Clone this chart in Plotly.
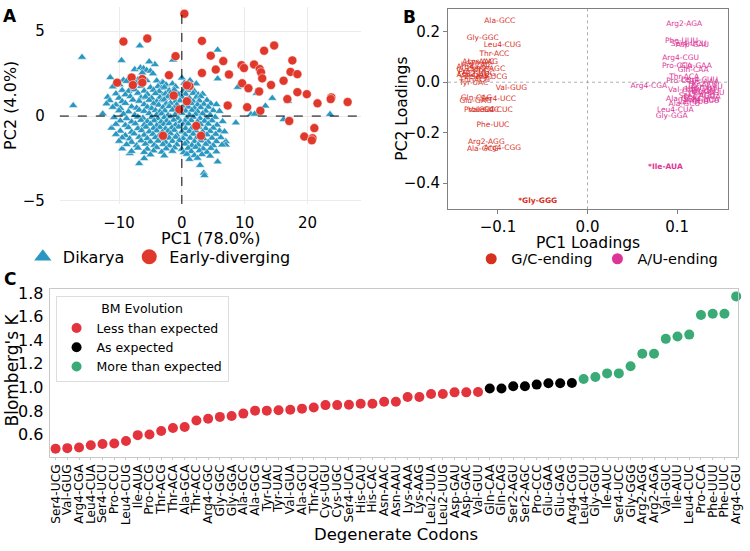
import plotly.graph_objects as go

W, H = 750, 551

# ---------------- Panel A: PCA scores ----------------
dikarya_pc1 = [
    -15.9, -17.3, -6.7, 5.7, -9.6, -1.4, -4.3, -5.2, 0.0, 5.7, -11.4, 23.6, 8.9, 11.9, 14.4, 16.9, 13.3, 11.0, 11.6, 16.2, 8.6,
    -6.8, 3.5, 3.6, 2.9, 5.7, 7.0, -9.5, -8.3, -11.2, -12.6,
    -7.5, -6.6, -6.1, -5.6, -5.0, -6.3, -4.6,
    -9.3, -8.8, -7.0, -6.2, -5.6, -4.0, -3.1, 1.3,
    -10.1, -9.9, -7.3, -3.5, -3.0, -2.5, -1.5, 0.4, 1.2, 2.3,
    -11.0, -8.0, -6.5, -5.0, -3.8, -3.2, -2.8, -1.0, 0.8, 1.5,
    -9.5, -8.5, -7.5, -6.0, -4.5, -3.6, -2.0, -1.2, 0.2, 1.0, 2.0,
    -10.5, -9.0, -7.0, -5.5, -4.2, -3.0, -2.6, -1.8, -0.5, 0.6, 1.8, 2.6, 3.3,
    -11.8, -10.0, -8.2, -6.5, -5.8, -4.8, -3.5, -2.2, -1.5, 0.0, 1.2, 2.3, 3.0,
    -11.5, -9.5, -7.8, -6.8, -5.2, -4.0, -3.2, -2.8, -1.0, -0.3, 0.8, 1.8, 2.8, 4.0,
    -12.0, -10.5, -9.0, -6.0, -4.5, -3.7, -2.5, -1.8, -0.8, 0.5, 1.5, 2.5, 3.5, 4.6, 5.5,
    -11.0, -9.8, -8.0, -7.2, -5.5, -4.8, -3.0, -2.0, -1.2, 0.2, 1.0, 2.0, 3.0, 4.2,
    -10.0, -8.5, -6.8, -6.0, -4.2, -3.5, -2.7, -1.5, -0.5, 0.6, 1.6, 2.5, 3.8, 5.0, 6.0,
    -9.3, -7.5, -5.2, -4.0, -3.2, -2.2, -1.0, 0.0, 1.2, 2.2, 3.3, 4.5,
    -10.8, -8.8, -7.0, -6.2, -4.8, -3.8, -2.8, -1.8, -0.6, 0.8, 1.8, 2.9, 4.0, 5.3,
    -9.8, -8.0, -6.5, -5.5, -4.4, -3.3, -2.4, -1.3, -0.2, 0.5, 1.5, 2.5, 3.6, 4.8, 6.5,
    -10.5, -9.0, -7.4, -6.0, -5.0, -4.0, -2.9, -2.0, -1.0, 0.2, 1.0, 2.0, 3.0, 4.2, 5.6,
    -8.5, -7.0, -5.7, -4.5, -3.5, -2.6, -1.6, -0.5, 0.6, 1.6, 2.7, 3.8, 5.0,
    -9.8, -8.0, -6.4, -5.2, -4.0, -3.1, -2.2, -1.2, 0.0, 1.2, 2.2, 3.3, 4.5, 6.0, 6.8,
    -10.5, -9.0, -7.6, -6.0, -4.6, -3.6, -2.7, -1.8, -0.8, 0.5, 1.8, 2.8, 4.0, 5.4,
    -9.5, -8.3, -6.8, -5.5, -4.2, -3.0, -2.0, -1.0, 0.2, 1.3, 2.4, 3.5, 4.8, 6.2,
    -10.0, -8.0, -6.5, -5.0, -3.8, -2.6, -1.5, -0.4, 0.8, 2.0, 3.0, 4.2, 5.5, 7.0,
    -8.8, -7.2, -5.8, -4.4, -3.0, -2.0, -0.8, 0.5, 1.6, 2.6, 3.8, 5.0, 6.4,
    -7.0, -5.5, -4.0, -2.5, -1.2, 0.0, 1.0, 2.2, 3.4, 4.6,
    -8.0, -6.0, -4.5, -3.2, -1.5, 0.3, 1.5, 2.8, 4.0, 5.5,
    -5.0, -2.8, 0.8, 2.0, 3.2, 4.5, -6.0, 1.2, 2.5,
]
dikarya_pc2 = [
    3.47, 0.62, 4.14, 3.9, 3.28, 3.31, 3.04, 3.2, 2.25, 2.2, 2.27, 0.1, 1.7, 1.35, 1.05, 0.87, 0.6, 0.1, 0.12, -0.2, -0.4,
    -2.8, -3.35, -3.5, -2.9, -2.7, -1.5, -1.93, -2.2, -0.71, 0.13,
    2.75, 2.85, 2.8, 2.7, 2.65, 2.55, 2.5,
    2.12, 2.05, 2.15, 2.02, 2.1, 2.08, 2.0, 2.1,
    1.92, 1.85, 1.95, 1.88, 1.97, 1.84, 1.9, 1.95, 1.86, 1.9,
    1.72, 1.66, 1.75, 1.68, 1.74, 1.65, 1.7, 1.73, 1.66, 1.7,
    1.52, 1.46, 1.55, 1.48, 1.53, 1.45, 1.5, 1.54, 1.47, 1.52, 1.45,
    1.32, 1.26, 1.35, 1.28, 1.33, 1.25, 1.31, 1.36, 1.27, 1.3, 1.34, 1.26, 1.3,
    1.12, 1.06, 1.15, 1.08, 1.13, 1.05, 1.1, 1.14, 1.07, 1.12, 1.05, 1.1, 1.15,
    0.92, 0.86, 0.95, 0.88, 0.93, 0.85, 0.91, 0.96, 0.87, 0.9, 0.94, 0.86, 0.9, 0.93,
    0.72, 0.66, 0.75, 0.68, 0.73, 0.65, 0.71, 0.76, 0.67, 0.7, 0.74, 0.66, 0.7, 0.73, 0.68,
    0.52, 0.46, 0.55, 0.48, 0.53, 0.45, 0.51, 0.56, 0.47, 0.5, 0.54, 0.46, 0.5, 0.53,
    0.32, 0.26, 0.35, 0.28, 0.33, 0.25, 0.31, 0.36, 0.27, 0.3, 0.34, 0.26, 0.3, 0.33, 0.28,
    0.12, 0.06, 0.15, 0.08, 0.13, 0.05, 0.11, 0.16, 0.07, 0.1, 0.14, 0.06,
    -0.08, -0.14, -0.05, -0.12, -0.07, -0.15, -0.09, -0.04, -0.13, -0.1, -0.06, -0.14, -0.1, -0.07,
    -0.28, -0.34, -0.25, -0.32, -0.27, -0.35, -0.29, -0.24, -0.33, -0.3, -0.26, -0.34, -0.3, -0.27, -0.32,
    -0.48, -0.54, -0.45, -0.52, -0.47, -0.55, -0.49, -0.44, -0.53, -0.5, -0.46, -0.54, -0.5, -0.47, -0.52,
    -0.68, -0.74, -0.65, -0.72, -0.67, -0.75, -0.69, -0.64, -0.73, -0.7, -0.66, -0.74, -0.7,
    -0.88, -0.94, -0.85, -0.92, -0.87, -0.95, -0.89, -0.84, -0.93, -0.9, -0.86, -0.94, -0.9, -0.87, -0.92,
    -1.08, -1.14, -1.05, -1.12, -1.07, -1.15, -1.09, -1.04, -1.13, -1.1, -1.06, -1.14, -1.1, -1.07,
    -1.28, -1.34, -1.25, -1.32, -1.27, -1.35, -1.29, -1.24, -1.33, -1.3, -1.26, -1.34, -1.3, -1.27,
    -1.48, -1.54, -1.45, -1.52, -1.47, -1.55, -1.49, -1.44, -1.53, -1.5, -1.46, -1.54, -1.5, -1.7,
    -1.68, -1.74, -1.65, -1.72, -1.67, -1.75, -1.69, -1.64, -1.73, -1.7, -1.66, -1.74, -1.7,
    -1.88, -1.94, -1.85, -1.92, -1.87, -1.95, -1.89, -1.84, -1.93, -1.9,
    -2.08, -2.14, -2.05, -2.12, -2.07, -2.15, -2.09, -2.04, -2.13, -2.1,
    -2.28, -2.34, -2.25, -2.32, -2.27, -2.35, -2.5, -2.55, -2.48,
]
early_pc1 = [0.4, -9.3, -5.5, 3.2, -1.0, 4.6, 6.6, 5.4, 3.2, 7.5, -2.05, 13.1, 14.7, 9.5, 9.9,
             11.5, 12.4, 12.6, 12.8, 9.6, 10.6, 12.3, 14.2, 16.2, 17.6, 17.3, 18.4, 18.4, 19.9,
             16.8, 21.6, 23.8, 23.7, 26.4, 7.3, 10.4, 12.5, 17.1, 21.1, 19.5, 20.8, 20.7, -10.3,
             -8.0, -7.8, -6.3, -6.3, 0.8, 1.2, 0.8, -1.3, -0.4, -3.0, 2.3, 3.05]
early_pc2 = [6.03, 4.39, 4.57, 4.43, 3.53, 3.56, 3.24, 2.74, 2.54, 2.45, 2.41, 3.85, 4.16, 3.0, 2.83,
             3.04, 2.77, 2.58, 2.22, 1.93, 1.64, 1.45, 1.83, 2.08, 3.28, 2.6, 2.47, 1.41, 1.29,
             1.0, 0.75, 1.1, 1.0, 0.83, 0.62, 0.52, 0.31, -0.29, -0.71, -1.21, -1.31, -1.43, 1.97,
             2.27, 1.83, 2.18, 1.97, 0.87, 1.77, 1.81, 1.21, 0.39, -1.16, -0.58, -1.16]
a_xticks = [-10, 0, 10, 20]
a_yticks = [-5, 0, 5]

# ---------------- Panel B: PCA loadings ----------------
gc_codons = ["Ala-GCC", "Gly-GGC", "Leu4-CUG", "Thr-ACC", "Asn-AAC", "Lys-AAG", "His-CAC", "Arg4-CGC",
             "Ser2-AGC", "Cys-UGC", "Pro-CCG", "Leu2-UUG", "Asp-GAC", "Ile-AUC", "Ser4-UCG", "Thr-ACG",
             "Tyr-UAC", "Val-GUG", "Gln-CAG", "Glu-GAG", "Ser4-UCC", "Pro-CCC", "Val-GUC", "Leu4-CUC",
             "Phe-UUC", "Arg2-AGG", "Ala-GCG", "Arg4-CGG", "Gly-GGG"]
gc_pc1 = [-0.098, -0.117, -0.095, -0.104, -0.122, -0.117, -0.125, -0.126,
          -0.112, -0.128, -0.127, -0.124, -0.128, -0.122, -0.110, -0.126,
          -0.127, -0.085, -0.124, -0.125, -0.100, -0.121, -0.116, -0.104,
          -0.1056, -0.113, -0.117, -0.095, -0.0556]
gc_pc2 = [0.244, 0.175, 0.146, 0.111, 0.078, 0.080, 0.066, 0.060,
          0.052, 0.048, 0.040, 0.034, 0.028, 0.020, 0.020, 0.008,
          -0.002, -0.024, -0.062, -0.073, -0.069, -0.111, -0.110, -0.109,
          -0.171, -0.239, -0.266, -0.261, -0.471]
au_codons = ["Arg2-AGA", "Phe-UUU", "Ser4-UCU", "Asp-GAU", "Arg4-CGU", "Pro-CCA", "Glu-GAA", "Gln-CAA",
             "Thr-ACA", "Pro-CCU", "Leu4-CUU", "Lys-AAA", "Arg4-CGA", "Thr-ACU", "Asn-AAU", "His-CAU",
             "Val-GUA", "Tyr-UAU", "Cys-UGU", "Gly-GGU", "Ser2-AGU", "Leu2-UUA", "Ala-GCA", "Ser4-UCA",
             "Ile-AUU", "Val-GUU", "Ala-GCU", "Leu4-CUA", "Gly-GGA", "Ile-AUA"]
au_pc1 = [0.108, 0.105, 0.113, 0.117, 0.104, 0.100, 0.121, 0.118,
          0.108, 0.105, 0.125, 0.130, 0.0685, 0.128, 0.133, 0.126,
          0.107, 0.131, 0.124, 0.135, 0.122, 0.128, 0.105, 0.127,
          0.132, 0.118, 0.108, 0.098, 0.094, 0.087]
au_pc2 = [0.231, 0.161, 0.150, 0.146, 0.096, 0.063, 0.064, 0.047,
          0.020, 0.003, 0.008, 0.002, -0.014, -0.010, -0.018, -0.026,
          -0.031, -0.034, -0.040, -0.045, -0.054, -0.060, -0.068, -0.070,
          -0.076, -0.080, -0.086, -0.111, -0.134, -0.335]
highlighted = ["Gly-GGG", "Ile-AUA"]
b_xticks = [-0.1, 0.0, 0.1]
b_yticks = [-0.4, -0.2, 0.0, 0.2]

# ---------------- Panel C: Blomberg's K ----------------
codons = ["Ser4-UCG", "Val-GUG", "Arg4-CGA", "Leu4-CUA", "Ser4-UCU", "Pro-CCU", "Leu4-CUG", "Ile-AUA",
          "Pro-CCG", "Thr-ACG", "Thr-ACA", "Ala-GCA", "Thr-ACC", "Arg4-CGC", "Gly-GGC", "Gly-GGA",
          "Ala-GCC", "Ala-GCG", "Tyr-UAC", "Tyr-UAU", "Val-GUA", "Ala-GCU", "Thr-ACU", "Cys-UGU",
          "Cys-UGC", "Ser4-UCA", "His-CAU", "His-CAC", "Asn-AAC", "Asn-AAU", "Lys-AAA", "Lys-AAG",
          "Leu2-UUA", "Leu2-UUG", "Asp-GAU", "Asp-GAC", "Val-GUU", "Gln-CAA", "Gln-CAG", "Ser2-AGU",
          "Ser2-AGC", "Pro-CCC", "Glu-GAA", "Glu-GAG", "Arg4-CGG", "Leu4-CUU", "Gly-GGU", "Ile-AUC",
          "Ser4-UCC", "Gly-GGG", "Arg2-AGG", "Arg2-AGA", "Val-GUC", "Ile-AUU", "Leu4-CUC", "Pro-CCA",
          "Phe-UUU", "Phe-UUC", "Arg4-CGU"]
blomberg_k = [0.48, 0.485, 0.49, 0.51, 0.52, 0.525, 0.545, 0.595, 0.60, 0.631,
              0.656, 0.664, 0.72, 0.734, 0.75, 0.758, 0.778, 0.803, 0.803, 0.806,
              0.811, 0.82, 0.83, 0.85, 0.85, 0.853, 0.861, 0.861, 0.878, 0.878,
              0.919, 0.919, 0.944, 0.944, 0.958, 0.958, 0.961, 0.991, 0.991, 1.01,
              1.01, 1.024, 1.035, 1.035, 1.038, 1.071, 1.088, 1.119, 1.119, 1.18,
              1.285, 1.285, 1.412, 1.432, 1.448, 1.614, 1.625, 1.625, 1.772]
bm_class = (["Less than expected"] * 37 + ["As expected"] * 8 + ["More than expected"] * 14)
bm_order = ["Less than expected", "As expected", "More than expected"]
bm_colors = {"Less than expected": "#e3333d", "As expected": "#000000", "More than expected": "#3aaa76"}
c_yticks = [0.6, 0.8, 1.0, 1.2, 1.4, 1.6, 1.8]

BLUE = "#2a97c0"
RED = "#e0392c"
GC_COL = "#d7301f"
AU_COL = "#dd3497"
FONT = "DejaVu Sans"


def px_x(p):
    return p / W


def px_y(p):
    return 1 - p / H


fig = go.Figure()

# Panel A traces
fig.add_trace(go.Scatter(x=dikarya_pc1, y=dikarya_pc2, mode="markers", xaxis="x", yaxis="y",
                         marker=dict(symbol="triangle-up", size=8, color=BLUE,
                                     line=dict(color="white", width=0.5)),
                         showlegend=False, cliponaxis=False))
fig.add_trace(go.Scatter(x=early_pc1, y=early_pc2, mode="markers", xaxis="x", yaxis="y",
                         marker=dict(symbol="circle", size=9, color=RED,
                                     line=dict(color="white", width=0.5)),
                         showlegend=False, cliponaxis=False))
fig.add_trace(go.Scatter(x=[None], y=[None], mode="markers", xaxis="x", yaxis="y", name="Dikarya",
                         marker=dict(symbol="triangle-up", size=15, color=BLUE), legend="legend"))
fig.add_trace(go.Scatter(x=[None], y=[None], mode="markers", xaxis="x", yaxis="y", name="Early-diverging",
                         marker=dict(symbol="circle", size=15, color=RED), legend="legend"))

# Panel B traces
def label_text(names):
    return ["<b>*" + n + "</b>" if n in highlighted else n for n in names]


fig.add_trace(go.Scatter(x=gc_pc1, y=gc_pc2, mode="text", text=label_text(gc_codons), xaxis="x2", yaxis="y2",
                         textfont=dict(size=7.5, color=GC_COL, family=FONT), showlegend=False,
                         cliponaxis=False))
fig.add_trace(go.Scatter(x=au_pc1, y=au_pc2, mode="text", text=label_text(au_codons), xaxis="x2", yaxis="y2",
                         textfont=dict(size=7.5, color=AU_COL, family=FONT), showlegend=False,
                         cliponaxis=False))
fig.add_trace(go.Scatter(x=[None], y=[None], mode="markers", xaxis="x2", yaxis="y2", name="G/C-ending",
                         marker=dict(size=11, color=GC_COL), legend="legend2"))
fig.add_trace(go.Scatter(x=[None], y=[None], mode="markers", xaxis="x2", yaxis="y2", name="A/U-ending",
                         marker=dict(size=11, color=AU_COL), legend="legend2"))

# Panel C traces
for cls in bm_order:
    xs = [c for c, k in zip(codons, bm_class) if k == cls]
    ys = [v for v, k in zip(blomberg_k, bm_class) if k == cls]
    fig.add_trace(go.Scatter(x=xs, y=ys, mode="markers", name=cls, xaxis="x3", yaxis="y3",
                             marker=dict(size=10, color=bm_colors[cls]), legend="legend3",
                             cliponaxis=False))

# Axes geometry (pixels)
A_L, A_R, A_T, A_B = 59.3, 363.3, 2.0, 203.0
B_L, B_R, B_T, B_B = 450.7, 732.7, 4.0, 208.5
C_L, C_R, C_T, C_B = 49.0, 743.0, 290.0, 460.7

fig.update_layout(
    width=W, height=H, margin=dict(l=0, r=0, t=0, b=0),
    paper_bgcolor="white", plot_bgcolor="white",
    font=dict(family=FONT, color="black"),
    xaxis=dict(domain=[px_x(A_L), px_x(A_R)], range=[-19.43, 28.59], anchor="y",
               tickvals=a_xticks, showgrid=True, gridcolor="#ebebeb", gridwidth=1,
               zeroline=False, showline=False, ticks="", ticklabelstandoff=8,
               tickfont=dict(size=15)),
    yaxis=dict(domain=[px_y(A_B), px_y(A_T)], range=[-5.18, 6.43], anchor="x",
               tickvals=a_yticks, showgrid=True, gridcolor="#ebebeb", gridwidth=1,
               zeroline=False, showline=False, ticks="", ticklabelstandoff=14,
               tickfont=dict(size=15)),
    xaxis2=dict(domain=[px_x(B_L), px_x(B_R)], range=[-0.1557, 0.1567], anchor="y2",
                tickvals=b_xticks, tickformat=".1f", showgrid=False, zeroline=False,
                showline=True, linecolor="#7f7f7f", linewidth=1, mirror=True,
                ticks="outside", ticklen=4, tickcolor="#7f7f7f", tickfont=dict(size=15)),
    yaxis2=dict(domain=[px_y(B_B), px_y(B_T)], range=[-0.504, 0.2907], anchor="x2",
                tickvals=b_yticks, tickformat=".1f", showgrid=False, zeroline=False,
                showline=True, linecolor="#7f7f7f", linewidth=1, mirror=True,
                ticks="outside", ticklen=4, tickcolor="#7f7f7f", tickfont=dict(size=15)),
    xaxis3=dict(domain=[px_x(C_L), px_x(C_R)], range=[-0.51, 58.16], anchor="y3",
                type="category", categoryorder="array", categoryarray=codons,
                tickmode="linear", tick0=0, dtick=1,
                tickangle=-90, tickfont=dict(size=12.2), showgrid=False, zeroline=False,
                showline=True, linecolor="#c8c8c8", linewidth=1, mirror=True,
                ticks="outside", ticklen=2, tickcolor="#c8c8c8"),
    yaxis3=dict(domain=[px_y(C_B), px_y(C_T)], range=[0.414, 1.833], anchor="x3",
                tickvals=c_yticks, tickformat=".1f", showgrid=False, zeroline=False,
                showline=True, linecolor="#c8c8c8", linewidth=1, mirror=True,
                ticks="", ticklabelstandoff=2, tickfont=dict(size=16)),
    legend=dict(orientation="h", x=px_x(22), y=px_y(257), xanchor="left", yanchor="middle",
                font=dict(size=16), bgcolor="rgba(0,0,0,0)", itemwidth=30),
    legend2=dict(orientation="h", x=px_x(474), y=px_y(259), xanchor="left", yanchor="middle",
                 font=dict(size=14.5), bgcolor="rgba(0,0,0,0)", itemwidth=30),
    legend3=dict(orientation="v", x=px_x(55), y=px_y(297), xanchor="left", yanchor="top",
                 font=dict(size=12.5), bgcolor="white", bordercolor="#dddddd", borderwidth=1,
                 title=dict(text="BM Evolution", side="top center", font=dict(size=12.5)),
                 itemwidth=30, tracegroupgap=0),
)

# Reference lines
shapes = [
    dict(type="line", xref="x", yref="y domain", x0=0, x1=0, y0=0, y1=1,
         line=dict(color="black", width=1, dash="dash")),
    dict(type="line", xref="x domain", yref="y", x0=0, x1=1, y0=0, y1=0,
         line=dict(color="black", width=1, dash="dash")),
    dict(type="line", xref="x2", yref="y2 domain", x0=0, x1=0, y0=0, y1=1,
         line=dict(color="#999999", width=0.8, dash="dot")),
    dict(type="line", xref="x2 domain", yref="y2", x0=0, x1=1, y0=0, y1=0,
         line=dict(color="#999999", width=0.8, dash="dot")),
]
fig.update_layout(shapes=shapes)

# Titles and panel letters
def ann(text, xp, yp, size, angle=0, bold=False, xanchor="center"):
    return dict(text=("<b>%s</b>" % text) if bold else text, x=px_x(xp), y=px_y(yp),
                xref="paper", yref="paper", showarrow=False, textangle=angle,
                font=dict(size=size, family=FONT, color="black"),
                xanchor=xanchor, yanchor="middle")


annotations = [
    ann("A", 9, 11, 17, bold=True),
    ann("B", 412, 12, 17, bold=True),
    ann("C", 9, 280, 17, bold=True),
    ann("PC1 (78.0%)", 211, 238, 16),
    ann("PC2 (4.0%)", 10, 102, 16, angle=-90),
    ann("PC1 Loadings", 592, 243, 15.5),
    ann("PC2 Loadings", 404, 106, 15.5, angle=-90),
    ann("Blomberg's K", 11, 372, 17, angle=-90),
    ann("Degenerate Codons", 398, 540, 16.5),
]
fig.update_layout(annotations=annotations)

fig.write_html("out.html", config={"displayModeBar": False},
               post_script="document.body.style.margin='0';document.body.style.padding='0';")
